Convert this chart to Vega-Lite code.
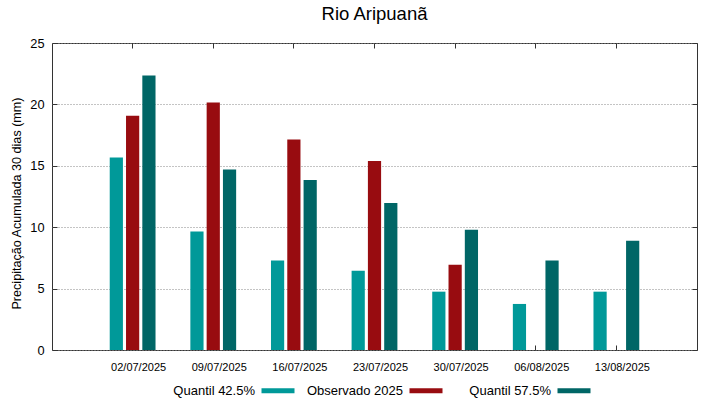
{
  "$schema": "https://vega.github.io/schema/vega-lite/v6.json",
  "width": 645,
  "height": 307,
  "autosize": {"type": "none"},
  "padding": {"left": 52, "top": 43, "right": 22, "bottom": 49},
  "background": "white",
  "title": {"text": "Rio Aripuanã", "fontSize": 18.5, "fontWeight": "normal", "font": "Liberation Sans", "color": "black", "baseline": "alphabetic", "offset": -1},
  "config": {
    "font": "Liberation Sans",
    "view": {"stroke": "#333", "strokeWidth": 1}
  },
  "data": {"values": [
    {"data": "02/07/2025", "serie": "Quantil 42.5%", "valor": 15.67},
    {"data": "02/07/2025", "serie": "Observado 2025", "valor": 19.07},
    {"data": "02/07/2025", "serie": "Quantil 57.5%", "valor": 22.35},
    {"data": "09/07/2025", "serie": "Quantil 42.5%", "valor": 9.66},
    {"data": "09/07/2025", "serie": "Observado 2025", "valor": 20.15},
    {"data": "09/07/2025", "serie": "Quantil 57.5%", "valor": 14.7},
    {"data": "16/07/2025", "serie": "Quantil 42.5%", "valor": 7.28},
    {"data": "16/07/2025", "serie": "Observado 2025", "valor": 17.14},
    {"data": "16/07/2025", "serie": "Quantil 57.5%", "valor": 13.85},
    {"data": "23/07/2025", "serie": "Quantil 42.5%", "valor": 6.45},
    {"data": "23/07/2025", "serie": "Observado 2025", "valor": 15.4},
    {"data": "23/07/2025", "serie": "Quantil 57.5%", "valor": 11.98},
    {"data": "30/07/2025", "serie": "Quantil 42.5%", "valor": 4.75},
    {"data": "30/07/2025", "serie": "Observado 2025", "valor": 6.95},
    {"data": "30/07/2025", "serie": "Quantil 57.5%", "valor": 9.8},
    {"data": "06/08/2025", "serie": "Quantil 42.5%", "valor": 3.75},
    {"data": "06/08/2025", "serie": "Quantil 57.5%", "valor": 7.28},
    {"data": "13/08/2025", "serie": "Quantil 42.5%", "valor": 4.75},
    {"data": "13/08/2025", "serie": "Quantil 57.5%", "valor": 8.9}
  ]},
  "layer": [
    {
      "mark": {"type": "bar"},
      "encoding": {
        "x": {
          "field": "data", "type": "nominal", "sort": null,
          "scale": {"paddingInner": 0.432, "paddingOuter": 0.716},
          "axis": {"orient": "bottom", "title": null, "labelAngle": 0, "domain": false, "grid": false,
                   "ticks": true, "tickSize": -5, "tickColor": "#333", "bandPosition": 0.5,
                   "labelFontSize": 11, "labelColor": "black", "labelPadding": 16, "labelOffset": 6}
        },
        "xOffset": {
          "field": "serie", "type": "nominal",
          "scale": {"domain": ["Quantil 42.5%", "Observado 2025", "Quantil 57.5%"], "paddingInner": 0.19, "paddingOuter": 0}
        },
        "y": {
          "field": "valor", "type": "quantitative",
          "scale": {"domain": [0, 25], "nice": false},
          "axis": {"values": [0, 5, 10, 15, 20, 25], "grid": true, "gridDash": [1, 2], "gridColor": "#888", "gridWidth": 1,
                   "domain": false, "tickSize": -5, "tickColor": "#333", "labelPadding": 13,
                   "labelFontSize": 12.8, "labelColor": "black",
                   "title": "Precipitação Acumulada 30 dias (mm)", "titleFontSize": 12.6, "titleFontWeight": "normal",
                   "titleColor": "black", "titlePadding": 6, "titleY": 160}
        },
        "color": {
          "field": "serie", "type": "nominal",
          "scale": {"domain": ["Quantil 42.5%", "Observado 2025", "Quantil 57.5%"], "range": ["#009999", "#980c10", "#006666"]},
          "legend": {"orient": "none", "legendX": 219.5, "legendY": 341, "direction": "horizontal", "title": null,
                     "symbolType": "M-3.3,-0.5L3.3,-0.5L3.3,0.5L-3.3,0.5Z", "symbolSize": 100, "symbolStrokeWidth": 0,
                     "labelAlign": "right", "labelOffset": -29.5, "labelFontSize": 13, "labelColor": "black",
                     "labelLimit": 300, "gridAlign": "all", "columnPadding": 12}
        }
      }
    },
    {
      "mark": {"type": "bar", "opacity": 0},
      "encoding": {
        "x": {
          "field": "data", "type": "nominal", "sort": null,
          "axis": {"orient": "top", "title": null, "labels": false, "domain": false, "grid": false, "minExtent": 0,
                   "ticks": true, "tickSize": -5, "tickColor": "#333", "bandPosition": 0.5}
        },
        "xOffset": {"field": "serie", "type": "nominal"},
        "y": {
          "field": "valor", "type": "quantitative",
          "axis": {"orient": "right", "values": [0, 5, 10, 15, 20, 25], "title": null, "labels": false, "domain": false, "grid": false,
                   "minExtent": 0, "tickSize": -5, "tickColor": "#333"}
        }
      }
    }
  ],
  "resolve": {"axis": {"x": "independent", "y": "independent"}}
}
